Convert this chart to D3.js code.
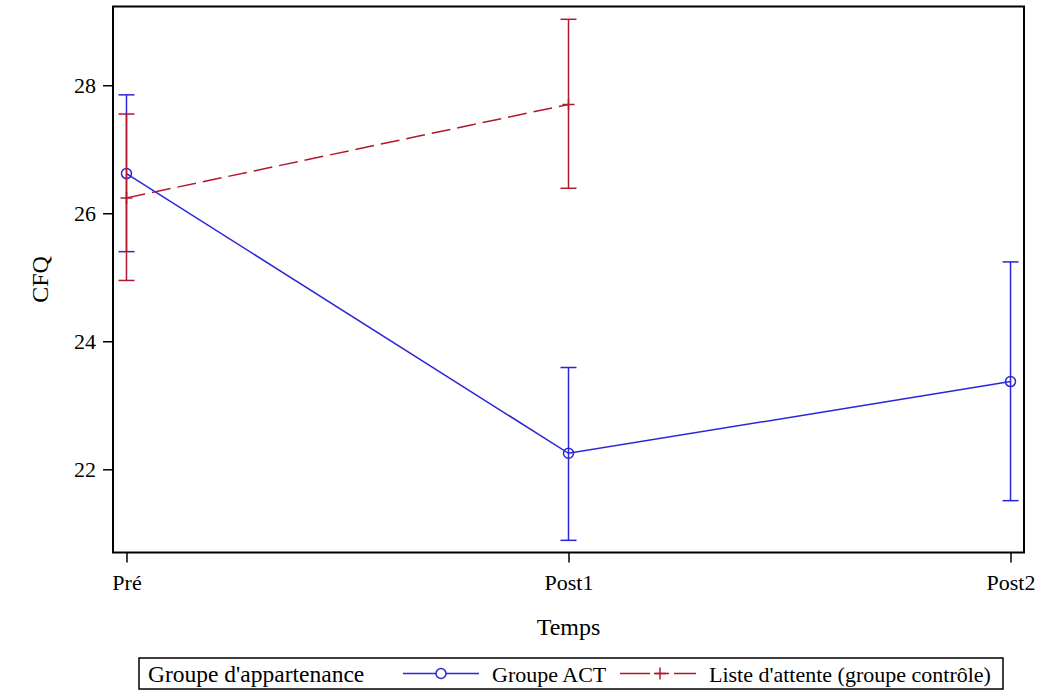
<!DOCTYPE html>
<html>
<head>
<meta charset="utf-8">
<script src="https://cdn.jsdelivr.net/npm/d3@7"></script>
<style>
  body { margin: 0; background: #fff; }
  svg text { font-family: "Liberation Serif", "Times New Roman", serif; fill: #000; }
</style>
</head>
<body>
<svg id="graph1"></svg>
<script>
// values
var temps = ["Pré", "Post1", "Post2"];
var groups = ["Groupe ACT", "Liste d'attente (groupe contrôle)"];

var actMean  = [26.62, 22.25, 23.37];
var actLow   = [25.40, 20.89, 21.51];
var actHigh  = [27.85, 23.59, 25.24];

var ctrlMean = [26.24, 27.70];
var ctrlLow  = [24.95, 26.39];
var ctrlHigh = [27.55, 29.03];

var yTicks = [22, 24, 26, 28];

var colors = {act: "#2A25D9", ctrl: "#B2182B"};

var screen = {width: 1061, height: 694};
var margins = {left: 113, right: 37, top: 6.5, bottom: 141.5};
var graph = {
    width: screen.width - margins.left - margins.right,
    height: screen.height - margins.top - margins.bottom
};

var series = [
    {name: groups[0], key: "act", marker: "circle", dash: null, legDash: null,
     rows: actMean.map(function (m, i) { return {t: temps[i], mean: m, low: actLow[i], high: actHigh[i]}; })},
    {name: groups[1], key: "ctrl", marker: "plus", dash: "19,7", legDash: "30,5,14,5,24",
     rows: ctrlMean.map(function (m, i) { return {t: temps[i], mean: m, low: ctrlLow[i], high: ctrlHigh[i]}; })}
];

var svg = d3.select("#graph1")
    .attr("width", screen.width)
    .attr("height", screen.height);

var xScale = d3.scalePoint()
    .domain(temps)
    .range([0, graph.width])
    .padding(0.0305);

var yScale = d3.scaleLinear()
    .domain([20.70, 29.23])
    .range([graph.height, 0]);

var target = svg.append("g")
    .attr("transform", "translate(" + margins.left + "," + margins.top + ")");

// axes
var yAxis = d3.axisLeft(yScale).tickValues(yTicks).tickFormat(d3.format("d"))
    .tickSizeInner(10).tickSizeOuter(0).tickPadding(7);
var xAxis = d3.axisBottom(xScale).tickSizeInner(10).tickSizeOuter(0).tickPadding(12);

var gy = target.append("g").call(yAxis);
var gx = target.append("g").attr("transform", "translate(0," + graph.height + ")").call(xAxis);
[gx, gy].forEach(function (g) {
    g.select(".domain").remove();
    g.selectAll("line").attr("stroke", "#000").attr("stroke-width", 1.5);
    g.selectAll("text").style("font-size", "22px").attr("fill", "#000");
});

// series
var cap = 8;
series.forEach(function (s) {
    var g = target.append("g");
    var col = colors[s.key];
    var line = d3.line()
        .x(function (d) { return xScale(d.t); })
        .y(function (d) { return yScale(d.mean); });

    g.append("path")
        .datum(s.rows)
        .attr("d", line)
        .attr("fill", "none")
        .attr("stroke", col)
        .attr("stroke-width", 1.5)
        .attr("stroke-dasharray", s.dash);

    var eb = g.selectAll(".eb").data(s.rows).enter().append("g").attr("class", "eb");
    eb.append("line")
        .attr("x1", function (d) { return xScale(d.t); })
        .attr("x2", function (d) { return xScale(d.t); })
        .attr("y1", function (d) { return yScale(d.low); })
        .attr("y2", function (d) { return yScale(d.high); });
    eb.append("line")
        .attr("x1", function (d) { return xScale(d.t) - cap; })
        .attr("x2", function (d) { return xScale(d.t) + cap; })
        .attr("y1", function (d) { return yScale(d.low); })
        .attr("y2", function (d) { return yScale(d.low); });
    eb.append("line")
        .attr("x1", function (d) { return xScale(d.t) - cap; })
        .attr("x2", function (d) { return xScale(d.t) + cap; })
        .attr("y1", function (d) { return yScale(d.high); })
        .attr("y2", function (d) { return yScale(d.high); });
    eb.selectAll("line").attr("stroke", col).attr("stroke-width", 1.5);

    if (s.marker == "circle") {
        g.selectAll(".mk").data(s.rows).enter().append("circle")
            .attr("cx", function (d) { return xScale(d.t); })
            .attr("cy", function (d) { return yScale(d.mean); })
            .attr("r", 5)
            .attr("fill", "none")
            .attr("stroke", col)
            .attr("stroke-width", 1.5);
    } else {
        g.selectAll(".mk").data(s.rows).enter().append("path")
            .attr("d", function (d) {
                var x = xScale(d.t), y = yScale(d.mean);
                return "M" + (x - 6) + "," + y + "H" + (x + 6) + "M" + x + "," + (y - 6) + "V" + (y + 6);
            })
            .attr("stroke", col)
            .attr("stroke-width", 1.5);
    }
});

// frame
target.append("rect")
    .attr("width", graph.width)
    .attr("height", graph.height)
    .attr("fill", "none")
    .attr("stroke", "#000")
    .attr("stroke-width", 2);

// axis labels
svg.append("text")
    .text("Temps")
    .attr("text-anchor", "middle")
    .attr("x", margins.left + graph.width / 2)
    .attr("y", 635)
    .style("font-size", "24px");

svg.append("g")
    .attr("transform", "translate(48," + (margins.top + graph.height / 2) + ")")
    .append("text")
    .text("CFQ")
    .attr("text-anchor", "middle")
    .attr("transform", "rotate(270)")
    .style("font-size", "24px");

// legend
var legend = svg.append("g").attr("transform", "translate(139,658)");
legend.append("rect")
    .attr("width", 864).attr("height", 31)
    .attr("fill", "none").attr("stroke", "#000").attr("stroke-width", 1.5);
legend.append("text").text("Groupe d'appartenance")
    .attr("x", 9).attr("y", 24).style("font-size", "23.5px");

var legX = [264, 481];
series.forEach(function (s, i) {
    var g = legend.append("g").attr("transform", "translate(" + legX[i] + ",15.5)");
    var col = colors[s.key];
    g.append("line").attr("x1", 0).attr("x2", 76)
        .attr("stroke", col).attr("stroke-width", 1.5)
        .attr("stroke-dasharray", s.legDash);
    if (s.marker == "circle") {
        g.append("circle").attr("cx", 38).attr("r", 5)
            .attr("fill", "#fff").attr("stroke", col).attr("stroke-width", 1.5);
    } else {
        g.append("path").attr("d", "M34,0H46M40,-6V6")
            .attr("stroke", col).attr("stroke-width", 1.5);
    }
    g.append("text").text(s.name)
        .attr("x", 89).attr("y", 8.5).style("font-size", "22px");
});
</script>
</body>
</html>
